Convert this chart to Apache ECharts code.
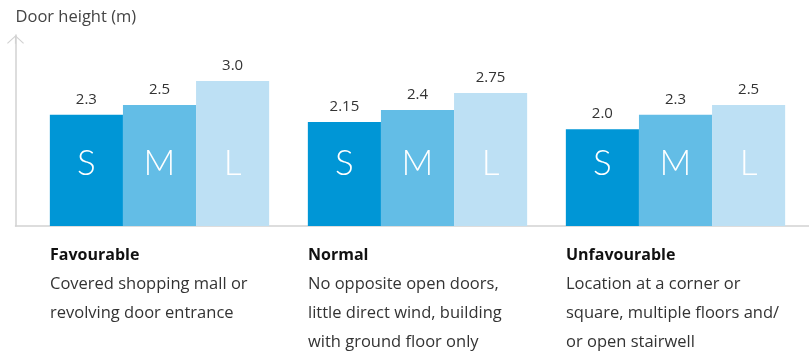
<!DOCTYPE html>
<html>
<head>
<meta charset="utf-8">
<style>
  html, body { margin: 0; padding: 0; background: #ffffff; }
  #chart { width: 809px; height: 353px; }
</style>
<script src="https://cdn.jsdelivr.net/npm/echarts@6/dist/echarts.min.js"></script>
</head>
<body>
<div id="chart"></div>
<script>
// Door height by location type and door size
const categories = ['Favourable', 'Normal', 'Unfavourable'];
const descriptions = [
  ['Covered shopping mall or', 'revolving door entrance'],
  ['No opposite open doors,', 'little direct wind, building', 'with ground floor only'],
  ['Location at a corner or', 'square, multiple floors and/', 'or open stairwell']
];
const sizes = ['S', 'M', 'L'];
const small = [2.3, 2.15, 2.0];
const medium = [2.5, 2.4, 2.3];
const large = [3.0, 2.75, 2.5];
const valueText = [
  ['2.3', '2.15', '2.0'],
  ['2.5', '2.4', '2.3'],
  ['3.0', '2.75', '2.5']
];
const axisTitle = 'Door height (m)';

const colors = ['#0096d6', '#63bde6', '#bde0f4'];
const FONT = '"Open Sans", "Noto Sans", sans-serif';
const LIGHT_FONT = 'Lato, "Open Sans", sans-serif';
const seriesData = [small, medium, large];

const chart = echarts.init(document.getElementById('chart'), null, { renderer: 'canvas' });

const gridTop = 35, gridBottom = 127;

const valueSeries = sizes.map((s, i) => ({
  type: 'bar',
  name: s,
  xAxisIndex: 1,
  yAxisIndex: 1,
  data: seriesData[i],
  barGap: '0%',
  barCategoryGap: '15%',
  itemStyle: { color: colors[i] },
  label: {
    show: true,
    position: 'top',
    distance: 8,
    fontFamily: FONT,
    fontSize: 15,
    color: '#333333',
    formatter: p => valueText[i][p.dataIndex]
  },
  silent: true,
  z: 2
}));

// transparent twins carrying the size letters at a common height
const letterSeries = sizes.map((s, i) => ({
  type: 'bar',
  name: s + '-letter',
  xAxisIndex: 2,
  yAxisIndex: 1,
  data: seriesData[i],
  barGap: '0%',
  barCategoryGap: '15%',
  itemStyle: { color: 'rgba(0,0,0,0)' },
  label: {
    show: true,
    position: 'insideBottom',
    distance: 45,
    fontFamily: LIGHT_FONT,
    fontWeight: 300,
    fontSize: 35,
    color: '#ffffff',
    formatter: () => s
  },
  silent: true,
  z: 3
}));

const rich = {
  t: { fontFamily: FONT, fontSize: 16, fontWeight: 'bold', color: '#111111', lineHeight: 29, align: 'left' },
  d: { fontFamily: FONT, fontSize: 16.5, color: '#333333', lineHeight: 29, align: 'left' }
};

chart.setOption({
  animation: false,
  grid: [
    { left: 15.5, right: 0, top: gridTop, bottom: gridBottom },
    { left: 30.5, right: 4.5, top: gridTop, bottom: gridBottom }
  ],
  xAxis: [
    {
      gridIndex: 0, type: 'value', min: 0, max: 1,
      axisLine: { show: true, lineStyle: { color: '#d2d2d2', width: 1.5 } },
      axisTick: { show: false }, axisLabel: { show: false }, splitLine: { show: false }
    },
    {
      gridIndex: 1, type: 'category', data: categories,
      axisLine: { show: false }, axisTick: { show: false }, splitLine: { show: false },
      axisLabel: {
        show: true,
        interval: 0,
        margin: 15,
        width: 219,
        align: 'center',
        verticalAlign: 'top',
        rich: rich,
        formatter: (v, idx) => ['{t|' + v + '}'].concat(descriptions[idx].map(l => '{d|' + l + '}')).join('\n')
      }
    },
    {
      gridIndex: 1, type: 'category', data: categories, show: false
    }
  ],
  yAxis: [
    {
      gridIndex: 0, type: 'value', min: 0, max: 1,
      name: axisTitle,
      nameLocation: 'end',
      nameGap: 18,
      nameTextStyle: { fontFamily: FONT, fontSize: 16.5, color: '#444444', align: 'left', verticalAlign: 'middle' },
      axisLine: {
        show: true,
        lineStyle: { color: '#d2d2d2', width: 1.5 },
        symbol: ['none', 'path://M10,0 L20,9.2 L19,10 L10.7,2.4 L10.7,10 L9.3,10 L9.3,2.4 L1,10 L0,9.2 Z'],
        symbolSize: [17, 9],
        symbolOffset: [0, -4.5]
      },
      axisTick: { show: false }, axisLabel: { show: false }, splitLine: { show: false }
    },
    {
      gridIndex: 1, type: 'value', min: 0, max: 3.95, show: false, splitLine: { show: false }
    }
  ],
  series: valueSeries.concat(letterSeries)
});
</script>
</body>
</html>
